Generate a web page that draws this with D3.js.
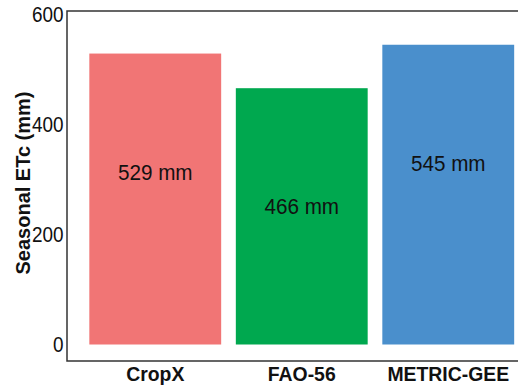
<!DOCTYPE html>
<html>
<head>
<meta charset="utf-8">
<script src="https://cdn.jsdelivr.net/npm/d3@7"></script>
<style>
  html,body{margin:0;padding:0;background:#fff;}
  svg{display:block;font-family:"Liberation Sans",Arial,sans-serif;}
</style>
</head>
<body>
<div id="chart"></div>
<script>
// data
var methods=["CropX","FAO-56","METRIC-GEE"];
var etc=[529,466,545];
var colors=["#F17575","#00A84F","#4A8FCC"];
var yTicks=[0,200,400,600];
var labelDrop=215; // labels sit this many mm below the bar top

var W=518,H=386;
var svg=d3.select("#chart").append("svg").attr("width",W).attr("height",H);

var x=d3.scaleBand().domain(methods).range([82,521.5]).paddingInner(0.1).paddingOuter(0.05);
var y=d3.scaleLinear().domain([0,600]).range([344.5,14.5]);

// bars
svg.selectAll("rect.bar").data(methods).enter().append("rect").attr("class","bar")
    .attr("x",function(d){return x(d);}).attr("width",x.bandwidth())
    .attr("y",function(d,i){return y(etc[i]);})
    .attr("height",function(d,i){return y(0)-y(etc[i]);})
    .attr("fill",function(d,i){return colors[i];});

// value labels (text in the source is a bit narrow/tall, so squeeze horizontally)
svg.selectAll("text.val").data(methods).enter().append("text").attr("class","val")
    .attr("transform",function(d,i){
        return "translate("+(x(d)+x.bandwidth()/2)+","+y(etc[i]-labelDrop)+") scale(0.94,1)";})
    .attr("dy","0.35em").attr("text-anchor","middle")
    .style("font-size","22px").attr("fill","#111")
    .text(function(d,i){return etc[i]+" mm";});

// panel frame: left, bottom, top (right side runs off the image)
var frame=svg.append("g").attr("stroke","#333").attr("stroke-width",1.5).attr("fill","none");
frame.append("path").attr("d","M520,11H67V361H520");

// y axis (labels only, no ticks)
var yAxis=d3.axisLeft(y).tickValues(yTicks).tickSize(0).tickPadding(4);
var ya=svg.append("g").attr("transform","translate(67,0)").call(yAxis);
ya.select(".domain").remove();
ya.selectAll("text").style("font-size","22px").attr("fill","#111")
    .style("font-family","'Liberation Sans',Arial,sans-serif")
    .attr("transform","scale(0.86,1)");

// x axis labels
var xAxis=d3.axisBottom(x).tickSize(0).tickPadding(6);
var xa=svg.append("g").attr("transform","translate(0,361)").call(xAxis);
xa.select(".domain").remove();
xa.selectAll("text").style("font-size","20px").style("font-weight","bold").attr("fill","#111")
    .style("font-family","'Liberation Sans',Arial,sans-serif")
    .attr("transform","scale(0.97,1)");

// y title
svg.append("text").attr("transform","translate(30,183) rotate(-90)")
    .attr("text-anchor","middle").style("font-size","20px").style("font-weight","bold")
    .attr("fill","#111").text("Seasonal ETc (mm)");
</script>
</body>
</html>
